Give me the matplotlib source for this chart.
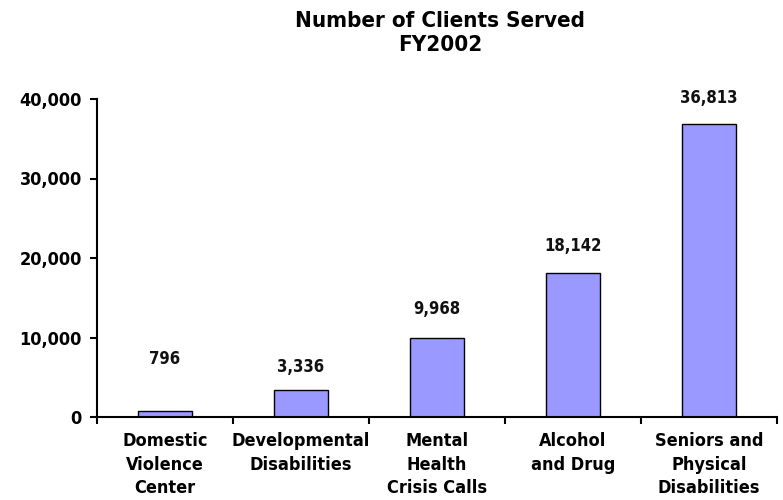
import matplotlib
matplotlib.use("Agg")
import matplotlib.pyplot as plt
from matplotlib.ticker import FuncFormatter, FixedLocator

categories = [
    "Domestic\nViolence\nCenter",
    "Developmental\nDisabilities",
    "Mental\nHealth\nCrisis Calls",
    "Alcohol\nand Drug",
    "Seniors and\nPhysical\nDisabilities",
]
clients = [796, 3336, 9968, 18142, 36813]
y_ticks = [0, 10000, 20000, 30000, 40000]
title = "Number of Clients Served\nFY2002"

# vertical gap (points) between each bar top and its value label
label_pad = [37, 17, 21, 19, 19]

plt.rcParams["font.family"] = ["DejaVu Sans"]
plt.rcParams["font.weight"] = "bold"
plt.rcParams["font.stretch"] = "condensed"

fig = plt.figure(figsize=(7.83, 5.0), dpi=100)
ax = fig.add_axes([97 / 783, 1 - 417 / 500, 680 / 783, 318 / 500])

x = list(range(len(categories)))
ax.bar(x, clients, width=0.4, color="#9999FF", edgecolor="black", linewidth=1.0)

for xi, v, pad in zip(x, clients, label_pad):
    ax.annotate(f"{v:,}", (xi, v), xytext=(0, pad), textcoords="offset points",
                ha="center", va="center", fontsize=12, fontweight="bold", color="#111111")

ax.set_xlim(-0.5, len(categories) - 0.5)
ax.set_ylim(0, 40000)
ax.set_yticks(y_ticks)
ax.yaxis.set_major_formatter(FuncFormatter(lambda v, p: f"{int(v):,}"))
ax.set_xticks(x)
ax.set_xticklabels(categories, fontsize=13, fontweight="bold", linespacing=1.4)
ax.xaxis.set_minor_locator(FixedLocator([i - 0.5 for i in range(len(categories) + 1)]))
ax.tick_params(axis="x", which="major", length=0, pad=11)
ax.tick_params(axis="x", which="minor", length=5, width=1.5, direction="out")
ax.tick_params(axis="y", length=5, width=1.5, direction="out", labelsize=13, pad=6)
for lbl in ax.get_yticklabels():
    lbl.set_fontweight("bold")

for side in ("top", "right"):
    ax.spines[side].set_visible(False)
for side in ("left", "bottom"):
    ax.spines[side].set_linewidth(1.5)

fig.text(0.562, 1 - 33 / 500, title, ha="center", va="center", fontsize=16,
         fontweight="bold", linespacing=1.3)

fig.savefig("out.png", dpi=100)
